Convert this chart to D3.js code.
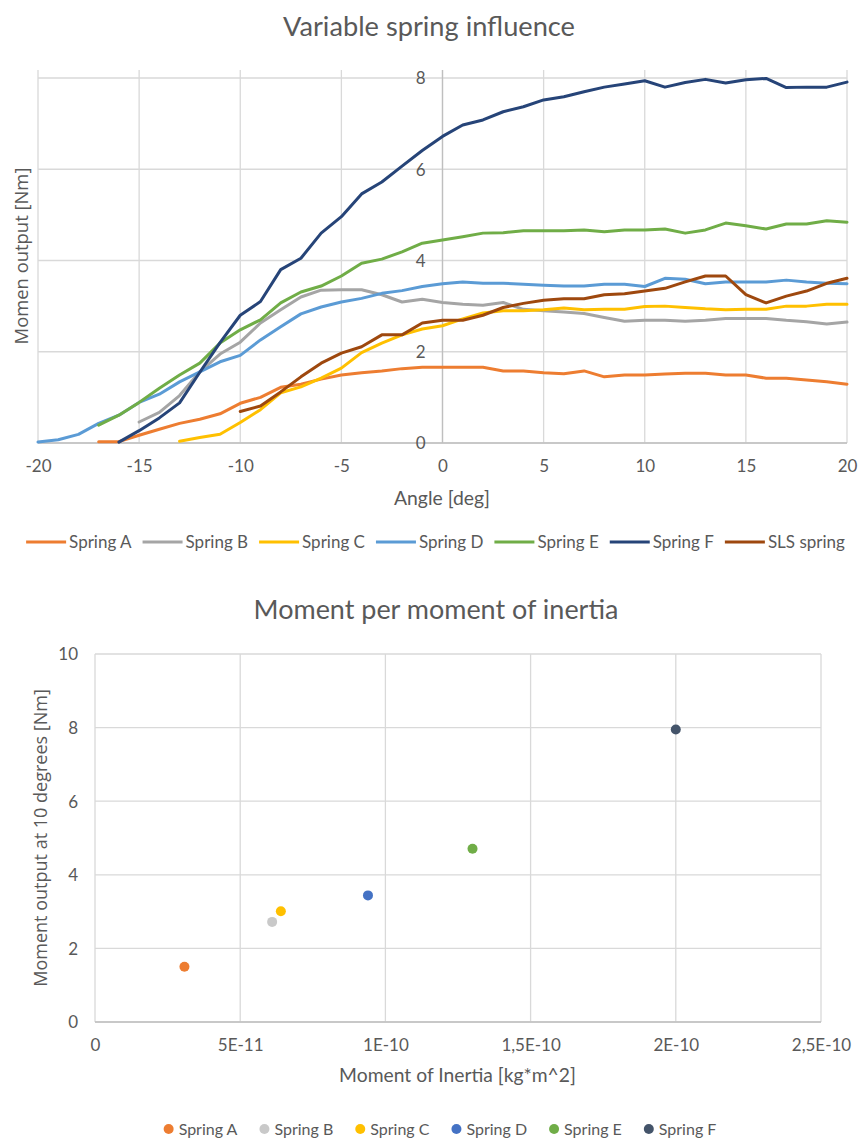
<!DOCTYPE html>
<html>
<head>
<meta charset="utf-8">
<script src="https://cdn.jsdelivr.net/npm/d3@7"></script>
<style>
  html, body { margin: 0; padding: 0; background: #fff; }
  svg { display: block; }
</style>
</head>
<body>
<svg id="chart" width="858" height="1140"></svg>
<script>
// ---------------- DATA ----------------
const angles = d3.range(-20, 21); // -20 .. 20 deg
const seriesNames = ["Spring A", "Spring B", "Spring C", "Spring D", "Spring E", "Spring F", "SLS spring"];
const springA = [null,null,null,0.03,0.03,0.17,0.30,0.43,0.52,0.64,0.87,1.00,1.22,1.29,1.40,1.49,1.54,1.58,1.63,1.66,1.66,1.66,1.66,1.58,1.58,1.54,1.52,1.58,1.45,1.49,1.49,1.51,1.53,1.53,1.49,1.49,1.42,1.42,1.38,1.34,1.29];
const springB = [null,null,null,null,null,0.46,0.67,1.04,1.56,1.95,2.21,2.63,2.92,3.20,3.35,3.36,3.36,3.25,3.09,3.15,3.08,3.04,3.02,3.08,2.93,2.90,2.87,2.84,2.75,2.67,2.69,2.69,2.67,2.69,2.73,2.73,2.73,2.69,2.66,2.61,2.65];
const springC = [null,null,null,null,null,null,null,0.04,0.12,0.19,0.45,0.73,1.10,1.23,1.42,1.64,1.98,2.19,2.37,2.50,2.57,2.72,2.85,2.90,2.90,2.92,2.96,2.92,2.93,2.93,2.99,3.00,2.97,2.94,2.92,2.93,2.93,3.00,3.00,3.04,3.04];
const springD = [0.02,0.07,0.19,0.43,0.61,0.89,1.07,1.34,1.56,1.78,1.92,2.26,2.55,2.83,2.98,3.09,3.17,3.28,3.34,3.43,3.49,3.53,3.50,3.50,3.48,3.46,3.44,3.44,3.48,3.48,3.43,3.61,3.59,3.49,3.53,3.53,3.53,3.57,3.53,3.50,3.49];
const springE = [null,null,null,0.39,0.61,0.89,1.20,1.49,1.75,2.19,2.48,2.70,3.07,3.31,3.44,3.66,3.94,4.03,4.19,4.38,4.45,4.52,4.60,4.61,4.65,4.65,4.65,4.67,4.63,4.67,4.67,4.69,4.60,4.67,4.82,4.76,4.69,4.80,4.80,4.87,4.84];
const springF = [null,null,null,null,0.02,0.27,0.55,0.88,1.55,2.20,2.80,3.10,3.80,4.05,4.60,4.96,5.46,5.72,6.07,6.41,6.72,6.97,7.08,7.26,7.37,7.52,7.59,7.70,7.80,7.87,7.94,7.80,7.90,7.97,7.89,7.96,7.99,7.79,7.80,7.80,7.91];
const springSLS = [null,null,null,null,null,null,null,null,null,null,0.69,0.81,1.12,1.45,1.75,1.97,2.11,2.37,2.37,2.63,2.69,2.69,2.80,2.97,3.06,3.13,3.16,3.16,3.25,3.27,3.33,3.39,3.53,3.66,3.66,3.25,3.07,3.22,3.33,3.50,3.61];
const lineColors = ["#ED7D31", "#A5A5A5", "#FFC000", "#5B9BD5", "#70AD47", "#264478", "#9E480E"];
const xTicksTop = [-20, -15, -10, -5, 0, 5, 10, 15, 20];
const yTicksTop = [0, 2, 4, 6, 8];

// scatter chart
const scatterNames = ["Spring A", "Spring B", "Spring C", "Spring D", "Spring E", "Spring F"];
const inertia = [3.08e-11, 6.1e-11, 6.4e-11, 9.4e-11, 1.3e-10, 2.0e-10];
const momentAt10 = [1.50, 2.72, 3.01, 3.44, 4.71, 7.95];
const scatterColors = ["#ED7D31", "#C9C9C9", "#FFC000", "#4472C4", "#70AD47", "#44546A"];
const xTicksBottom = [0, 5e-11, 1e-10, 1.5e-10, 2e-10, 2.5e-10];
const xTickLabelsBottom = ["0", "5E-11", "1E-10", "1,5E-10", "2E-10", "2,5E-10"];
const yTicksBottom = [0, 2, 4, 6, 8, 10];

// ---------------- STYLE ----------------
const FONT = "Lato, 'Open Sans', sans-serif";
const FONT_Y = "'Open Sans', 'Noto Sans', sans-serif";
const TXT = "#595959";
const GRID = "#d9d9d9";

// scale a text's font-size so that it spans the wanted length
function fit(t, base, target) {
  t.style("font-size", base + "px");
  const w = t.node().getComputedTextLength();
  t.style("font-size", (base * target / w).toFixed(2) + "px");
  return t;
}

const svg = d3.select("#chart");
svg.append("rect").attr("width", 858).attr("height", 1140).attr("fill", "#fff");

// ================= TOP CHART =================
const gTop = svg.append("g");
const x1 = d3.scaleLinear().domain([-20, 20]).range([38, 847]);
const y1 = d3.scaleLinear().domain([0, 8]).range([443, 78]);
const plotTop1 = 70;

gTop.append("g").selectAll("line").data(xTicksTop).join("line")
  .attr("x1", d => x1(d)).attr("x2", d => x1(d))
  .attr("y1", plotTop1).attr("y2", y1(0))
  .attr("stroke", GRID).attr("stroke-width", 1.3);
gTop.append("g").selectAll("line").data(yTicksTop).join("line")
  .attr("x1", x1(-20)).attr("x2", x1(20))
  .attr("y1", d => y1(d)).attr("y2", d => y1(d))
  .attr("stroke", GRID).attr("stroke-width", 1.3);
gTop.append("line").attr("x1", x1(-20)).attr("x2", x1(20)).attr("y1", y1(0)).attr("y2", y1(0))
  .attr("stroke", "#bfbfbf").attr("stroke-width", 1.3);
gTop.append("line").attr("x1", x1(0)).attr("x2", x1(0)).attr("y1", plotTop1).attr("y2", y1(0))
  .attr("stroke", "#bfbfbf").attr("stroke-width", 1.3);

const xa1 = gTop.append("g").attr("transform", `translate(0,${y1(0)})`)
  .call(d3.axisBottom(x1).tickValues(xTicksTop).tickSize(0).tickFormat(d => String(d)));
xa1.select(".domain").remove();
xa1.selectAll("text").attr("y", 23).attr("dy", "0.35em")
  .style("font-family", FONT).style("font-size", "17px").attr("fill", TXT);

const ya1 = gTop.append("g").attr("transform", `translate(${x1(0)},0)`)
  .call(d3.axisLeft(y1).tickValues(yTicksTop).tickSize(0).tickFormat(d => String(d)));
ya1.select(".domain").remove();
ya1.selectAll("text").attr("x", -17).attr("dy", "0.35em")
  .style("font-family", FONT).style("font-size", "17px").attr("fill", TXT);

const allSeries = [springA, springB, springC, springD, springE, springF, springSLS];
const line1 = d3.line()
  .defined(d => d.v != null)
  .x(d => x1(d.a)).y(d => y1(d.v));
gTop.append("g").selectAll("path").data(allSeries).join("path")
  .attr("d", s => line1(angles.map((a, i) => ({ a, v: s[i] }))))
  .attr("fill", "none")
  .attr("stroke", (s, i) => lineColors[i])
  .attr("stroke-width", 3)
  .attr("stroke-linejoin", "round")
  .attr("stroke-linecap", "round");

fit(gTop.append("text").attr("x", 429).attr("y", 26).attr("dy", "0.35em")
  .attr("text-anchor", "middle").style("font-family", FONT)
  .attr("fill", TXT).text("Variable spring influence"), 25, 292);
fit(gTop.append("text").attr("x", 442).attr("y", 498).attr("dy", "0.35em")
  .attr("text-anchor", "middle").style("font-family", FONT)
  .attr("fill", TXT).text("Angle [deg]"), 18, 96);
fit(gTop.append("text").attr("transform", "translate(22,256) rotate(-90)").attr("dy", "0.35em")
  .attr("text-anchor", "middle").style("font-family", FONT_Y)
  .attr("fill", TXT).text("Momen output [Nm]"), 16, 177);

const leg1 = gTop.append("g");
let lx = 0;
seriesNames.forEach((n, i) => {
  const g = leg1.append("g");
  g.append("line").attr("x1", 0).attr("x2", 40).attr("y1", 0).attr("y2", 0)
    .attr("stroke", lineColors[i]).attr("stroke-width", 3);
  const t = g.append("text").attr("x", 43).attr("dy", "0.35em")
    .style("font-family", FONT).style("font-size", "17px").attr("fill", TXT).text(n);
  const w = t.node().getComputedTextLength();
  g.attr("transform", `translate(${lx},0)`);
  lx += 43 + w + 11;
});
const totalW1 = lx - 11;
leg1.attr("transform", `translate(${435.5 - totalW1 / 2},542)`);

// ================= BOTTOM CHART =================
const gBot = svg.append("g");
const x2 = d3.scaleLinear().domain([0, 2.5e-10]).range([95, 821]);
const y2 = d3.scaleLinear().domain([0, 10]).range([1022, 654]);

gBot.append("g").selectAll("line").data(xTicksBottom).join("line")
  .attr("x1", d => x2(d)).attr("x2", d => x2(d))
  .attr("y1", y2(10)).attr("y2", y2(0))
  .attr("stroke", GRID).attr("stroke-width", 1.3);
gBot.append("g").selectAll("line").data(yTicksBottom).join("line")
  .attr("x1", x2(0)).attr("x2", x2(2.5e-10))
  .attr("y1", d => y2(d)).attr("y2", d => y2(d))
  .attr("stroke", GRID).attr("stroke-width", 1.3);
gBot.append("line").attr("x1", x2(0)).attr("x2", x2(2.5e-10)).attr("y1", y2(0)).attr("y2", y2(0))
  .attr("stroke", "#bfbfbf").attr("stroke-width", 1.3);

const xa2 = gBot.append("g").attr("transform", `translate(0,${y2(0)})`)
  .call(d3.axisBottom(x2).tickValues(xTicksBottom).tickSize(0)
    .tickFormat((d, i) => xTickLabelsBottom[i]));
xa2.select(".domain").remove();
xa2.selectAll("text").attr("y", 23).attr("dy", "0.35em")
  .style("font-family", FONT).style("font-size", "17px").attr("fill", TXT);

const ya2 = gBot.append("g").attr("transform", `translate(${x2(0)},0)`)
  .call(d3.axisLeft(y2).tickValues(yTicksBottom).tickSize(0).tickFormat(d => String(d)));
ya2.select(".domain").remove();
ya2.selectAll("text").attr("x", -17).attr("dy", "0.35em")
  .style("font-family", FONT).style("font-size", "17px").attr("fill", TXT);

gBot.append("g").selectAll("circle").data(inertia).join("circle")
  .attr("cx", d => x2(d))
  .attr("cy", (d, i) => y2(momentAt10[i]))
  .attr("r", 5)
  .attr("fill", (d, i) => scatterColors[i]);

fit(gBot.append("text").attr("x", 436).attr("y", 610).attr("dy", "0.35em")
  .attr("text-anchor", "middle").style("font-family", FONT)
  .attr("fill", TXT).text("Moment per moment of inertia"), 25, 365);
fit(gBot.append("text").attr("x", 457.5).attr("y", 1075).attr("dy", "0.35em")
  .attr("text-anchor", "middle").style("font-family", FONT)
  .attr("fill", TXT).text("Moment of Inertia [kg*m^2]"), 18, 237);
fit(gBot.append("text").attr("transform", "translate(41,838) rotate(-90)").attr("dy", "0.35em")
  .attr("text-anchor", "middle").style("font-family", FONT_Y)
  .attr("fill", TXT).text("Moment output at 10 degrees [Nm]"), 16, 298);

const leg2 = gBot.append("g");
let lx2 = 0;
scatterNames.forEach((n, i) => {
  const g = leg2.append("g");
  g.append("circle").attr("cx", 5).attr("cy", 0).attr("r", 5).attr("fill", scatterColors[i]);
  const t = g.append("text").attr("x", 15).attr("dy", "0.35em")
    .style("font-family", FONT).style("font-size", "16px").attr("fill", TXT).text(n);
  const w = t.node().getComputedTextLength();
  g.attr("transform", `translate(${lx2},0)`);
  lx2 += 15 + w + 22;
});
const totalW2 = lx2 - 22;
leg2.attr("transform", `translate(${440 - totalW2 / 2},1129)`);
</script>
</body>
</html>
